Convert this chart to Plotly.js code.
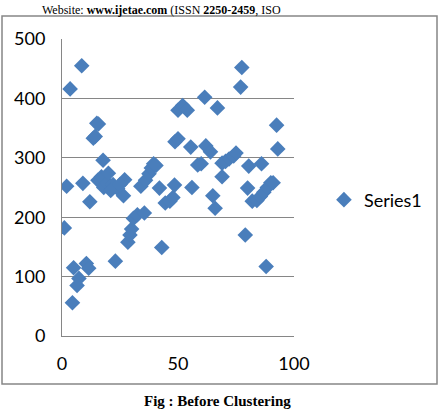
<!DOCTYPE html>
<html>
<head>
<meta charset="utf-8">
<script src="https://cdn.plot.ly/plotly-3.0.1.min.js"></script>
<style>
  html, body { margin: 0; padding: 0; background: #fff; }
  #chart { width: 448px; height: 414px; }
</style>
</head>
<body>
<div id="chart"></div>
<script>
const seriesName = "Series1";
const xValues = [1, 2, 3.5, 8.5, 4.5, 5, 6.5, 7.3, 10.5, 11.5, 9, 12, 13.5, 14.3, 15, 15.7, 17.7,
  15.5, 17, 18, 19.5, 20, 22, 24, 26.5, 27, 21, 23, 28.4, 29.3, 30, 30.8, 32.5, 35.5,
  34, 36, 37.5, 38.5, 39.5, 40.5, 42, 43, 44.5, 46.5, 47.8, 48.5, 48.7, 50, 50, 52, 54,
  55.5, 56, 58.5, 60, 61.5, 62, 64, 65, 66, 67, 69, 69, 70.5, 72, 74, 75, 77, 77.5, 79,
  80, 80.5, 82, 84, 85.5, 86, 87, 88.5, 90, 91, 88, 92.5, 93, 25];
const yValues = [182, 252, 416, 455, 56, 115, 85, 97, 122, 114, 257, 226, 333, 336, 358, 357, 296,
  262, 268, 250, 258, 274, 255, 248, 236, 263, 245, 126, 158, 170, 180, 198, 204, 207,
  252, 262, 273, 283, 290, 287, 249, 149, 224, 227, 233, 254, 327, 332, 380, 388, 380,
  318, 250, 288, 290, 402, 320, 310, 236, 215, 384, 268, 291, 294, 298, 303, 308, 419, 452, 170,
  249, 286, 227, 228, 235, 290, 242, 250, 258, 258, 117, 355, 315, 255];
const xTicks = [0, 50, 100];
const yTicks = [0, 100, 200, 300, 400, 500];
const headerText = "Website: <b>www.ijetae.com</b> (ISSN <b>2250-2459</b>, ISO";
const captionText = "<b>Fig : Before Clustering</b>";

const fontFam = "Lato, 'Noto Sans', sans-serif";

const trace = {
  type: "scatter",
  mode: "markers",
  name: seriesName,
  x: xValues,
  y: yValues,
  marker: { symbol: "diamond", size: 12, color: "#4A7EBB" },
  showlegend: true
};

const layout = {
  width: 448,
  height: 414,
  margin: { l: 62, r: 154, t: 39, b: 78 },
  paper_bgcolor: "#ffffff",
  plot_bgcolor: "#ffffff",
  font: { family: fontFam, size: 18, color: "#000" },
  xaxis: {
    range: [0, 100],
    tickvals: xTicks,
    ticktext: xTicks.map(String),
    showgrid: false,
    zeroline: false,
    showline: true,
    linecolor: "#868686",
    linewidth: 1,
    ticks: "",
    ticklabelstandoff: 11,
    tickfont: { family: fontFam, size: 18, color: "#000" }
  },
  yaxis: {
    range: [0, 500],
    tickvals: yTicks,
    ticktext: yTicks.map(String),
    showgrid: true,
    gridcolor: "#868686",
    gridwidth: 1,
    zeroline: false,
    showline: true,
    linecolor: "#868686",
    linewidth: 1,
    ticks: "",
    ticklabelstandoff: 12,
    tickfont: { family: fontFam, size: 18, color: "#000" }
  },
  legend: {
    x: 1.129, xanchor: "left",
    y: 0.458, yanchor: "middle",
    bgcolor: "rgba(0,0,0,0)",
    font: { family: fontFam, size: 18, color: "#000" },
    itemwidth: 30
  },
  shapes: [{
    type: "rect", xref: "paper", yref: "paper",
    x0: -0.2586, x1: 1.6164, y0: -0.1616, y1: 1.0774,
    line: { color: "#868686", width: 1.5 },
    fillcolor: "rgba(0,0,0,0)",
    layer: "below"
  }],
  annotations: [
    {
      text: headerText, xref: "paper", yref: "paper",
      x: -0.095, y: 1.128, xanchor: "left", yanchor: "top",
      showarrow: false,
      font: { family: "'Liberation Serif', 'DejaVu Serif', serif", size: 12, color: "#000" }
    },
    {
      text: captionText, xref: "paper", yref: "paper",
      x: 0.67, y: -0.219, xanchor: "center", yanchor: "middle",
      showarrow: false,
      font: { family: "'Liberation Serif', 'DejaVu Serif', serif", size: 15, color: "#000" }
    }
  ]
};

Plotly.newPlot("chart", [trace], layout, { displayModeBar: false, staticPlot: true });
</script>
</body>
</html>
